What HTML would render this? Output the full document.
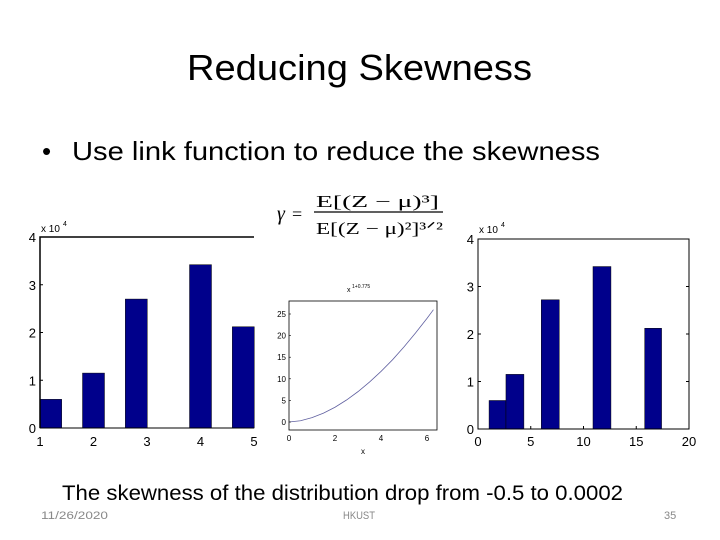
<!DOCTYPE html>
<html><head><meta charset="utf-8"><style>
html,body{margin:0;padding:0;background:#fff;}
svg{display:block;}
text{font-family:"Liberation Sans",sans-serif;}
.ser{font-family:"Liberation Serif",serif;}
</style></head><body>
<svg id="s" width="720" height="540" viewBox="0 0 720 540">
<text x="187" y="80" font-size="36" textLength="345" lengthAdjust="spacingAndGlyphs">Reducing Skewness</text>
<text x="42" y="160" font-size="26">•</text>
<text x="72" y="160" font-size="26" textLength="528" lengthAdjust="spacingAndGlyphs">Use link function to reduce the skewness</text>
<g class="ser">
<text x="277" y="220" font-size="20" font-style="italic" class="ser">γ</text>
<text x="292" y="220" font-size="18" class="ser">=</text>
<text x="316" y="207" font-size="17" class="ser" textLength="123" lengthAdjust="spacingAndGlyphs">E[(Z − μ)³]</text>
<line x1="314" y1="212" x2="443" y2="212" stroke="#000" stroke-width="1.2"/>
<text x="316" y="234" font-size="17" class="ser" textLength="127" lengthAdjust="spacingAndGlyphs">E[(Z − μ)²]³ᐟ²</text>
</g>
<g id="left"></g>
<g id="mid"></g>
<g id="right"></g>
<text x="62" y="500" font-size="21" textLength="561" lengthAdjust="spacingAndGlyphs">The skewness of the distribution drop from -0.5 to 0.0002</text>
<text x="41" y="519" font-size="11" fill="#888" textLength="67" lengthAdjust="spacingAndGlyphs">11/26/2020</text>
<text x="343" y="519" font-size="11" fill="#888" textLength="32" lengthAdjust="spacingAndGlyphs">HKUST</text>
<text x="664" y="519" font-size="11" fill="#888">35</text>
</svg>
<script>
const leftCenters=[1.2,2.0,2.8,4.0,4.8];
const leftValues=[0.6,1.15,2.7,3.42,2.12];
const leftXTicks=[1,2,3,4,5];
const yTicks=[0,1,2,3,4];
const rightStarts=[1.05,2.65,6.0,10.9,15.8];
const rightEnds=[2.65,4.35,7.7,12.6,17.4];
const rightValues=[0.6,1.15,2.72,3.42,2.12];
const rightXTicks=[0,5,10,15,20];
const curveX=[0,0.5,1,1.5,2,2.5,3,3.5,4,4.5,5,5.5,6,6.28];
const curveY=[0,0.29,1,2.05,3.42,5.09,7.03,9.24,11.7,14.4,17.4,20.6,24.0,26.0];
const midXTicks=[0,2,4,6];
const midYTicks=[0,5,10,15,20,25];
const NS='http://www.w3.org/2000/svg';
function mk(p,t,a){const e=document.createElementNS(NS,t);for(const k in a)e.setAttribute(k,a[k]);p.appendChild(e);return e;}
function txt(p,x,y,s,size,anchor){const e=mk(p,'text',{x:x,y:y,'font-size':size,'text-anchor':anchor||'middle'});e.textContent=s;return e;}
// left
(function(){const g=document.getElementById('left');
const x0=40,x1=254,yb=428,yt=237;const sx=v=>x0+(v-1)/4*(x1-x0);const sy=v=>yb-v/4*(yb-yt);const bw=0.41;
leftValues.forEach((v,i)=>{const r=mk(g,'rect',{x:sx(leftCenters[i]-bw/2),y:sy(v),width:sx(leftCenters[i]+bw/2)-sx(leftCenters[i]-bw/2),height:yb-sy(v),fill:'#00008b',stroke:'#000',"stroke-width":0.5});

});
mk(g,'polyline',{points:`${x0},${yb} ${x0},${yt} ${x1},${yt}`,fill:'none',stroke:'#000','stroke-width':1.5});
mk(g,'line',{x1:x0,y1:yb,x2:x1,y2:yb,stroke:'#000','stroke-width':1});
yTicks.forEach(t=>{txt(g,x0-4,sy(t)+5,String(t),13,'end');mk(g,'line',{x1:x0,y1:sy(t),x2:x0+3,y2:sy(t),stroke:'#000'});});
leftXTicks.forEach(t=>{txt(g,sx(t),446,String(t),13);});
txt(g,41,232,'x 10',10,'start');txt(g,63,226,'4',7,'start');
})();
// mid
(function(){const g=document.getElementById('mid');
const x0=289,x1=437,yt=301,yb=430;const sx=v=>x0+v*(427-289)/6;const sy=v=>422-v*(422-314)/25;
mk(g,'rect',{x:x0,y:yt,width:x1-x0,height:yb-yt,fill:'none',stroke:'#000','stroke-width':0.8});
const pl=mk(g,'polyline',{points:curveX.map((x,i)=>sx(x)+','+sy(curveY[i])).join(' '),fill:'none',stroke:'#6060a0','stroke-width':0.8});


midYTicks.forEach(t=>{txt(g,x0-3,sy(t)+3,String(t),8,'end');mk(g,'line',{x1:x0,y1:sy(t),x2:x0+2,y2:sy(t),stroke:'#000','stroke-width':0.6});});
midXTicks.forEach(t=>{txt(g,sx(t),441,String(t),8);});
txt(g,363,454,'x',8);txt(g,347,292,'x',7,'start');txt(g,352,288,'1+0.775',5,'start');
})();
// right
(function(){const g=document.getElementById('right');
const x0=478,x1=689,yt=239,yb=429;const sx=v=>x0+v/20*(x1-x0);const sy=v=>yb-v/4*(yb-yt);
rightValues.forEach((v,i)=>{const r=mk(g,'rect',{x:sx(rightStarts[i]),y:sy(v),width:sx(rightEnds[i])-sx(rightStarts[i]),height:yb-sy(v),fill:'#00008b',stroke:'#000','stroke-width':0.5});

});
mk(g,'rect',{x:x0,y:yt,width:x1-x0,height:yb-yt,fill:'none',stroke:'#000','stroke-width':1});
yTicks.forEach(t=>{txt(g,x0-4,sy(t)+5,String(t),13,'end');mk(g,'line',{x1:x0,y1:sy(t),x2:x0+3,y2:sy(t),stroke:'#000'});mk(g,'line',{x1:x1,y1:sy(t),x2:x1-3,y2:sy(t),stroke:'#000'});});
rightXTicks.forEach(t=>{txt(g,sx(t),446,String(t),13);mk(g,'line',{x1:sx(t),y1:yb,x2:sx(t),y2:yb-3,stroke:'#000'});});
txt(g,479,233,'x 10',10,'start');txt(g,501,227,'4',7,'start');
})();
</script>
</body></html>
